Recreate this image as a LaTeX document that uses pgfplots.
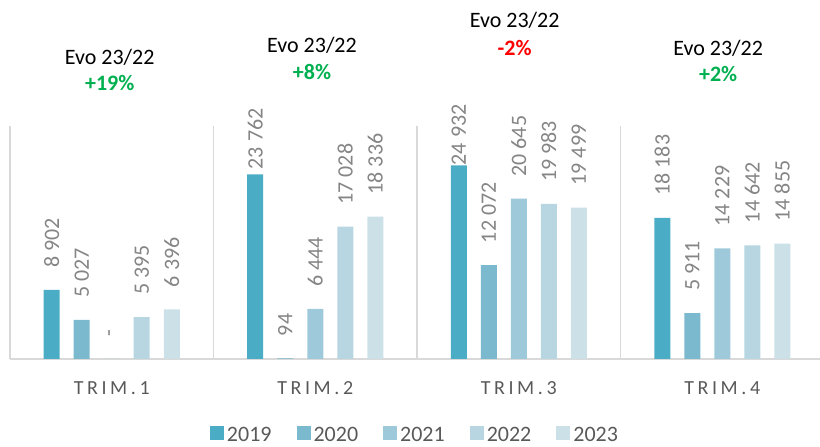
\documentclass[border=0pt]{standalone}
\usepackage{fontspec}
\setmainfont{Carlito}
\usepackage{pgfplots}
\pgfplotsset{compat=1.18}
\definecolor{c19}{RGB}{75,172,198}
\definecolor{c20}{RGB}{123,185,206}
\definecolor{c21}{RGB}{158,201,218}
\definecolor{c22}{RGB}{183,214,225}
\definecolor{c23}{RGB}{204,224,232}
\definecolor{sepgray}{RGB}{217,217,217}
\definecolor{lblgray}{RGB}{133,133,133}
\definecolor{txtgray}{RGB}{89,89,89}
\definecolor{evogreen}{RGB}{0,176,80}
\definecolor{evored}{RGB}{255,0,0}
\begin{document}
\begin{tikzpicture}
\begin{axis}[
  at={(0pt,0pt)}, anchor=south west,
  scale only axis, width=814pt, height=233pt,
  xmin=-0.5, xmax=3.5, ymin=0, ymax=30000,
  ybar=14pt, bar width=16pt,
  axis x line=bottom, axis y line=none,
  x axis line style={draw=sepgray, line width=1.5pt, -},
  xtick={0,1,2,3}, xticklabels={TRIM.1,TRIM.2,TRIM.3,TRIM.4},
  major tick length=0pt,
  xticklabel style={anchor=center, yshift=-29pt, font=\fontsize{20}{22}\selectfont\addfontfeature{LetterSpace=18}, text=txtgray},
  extra x ticks={-0.5,0.5,1.5,2.5},
  extra x tick labels={},
  extra x tick style={grid=major, major grid style={draw=sepgray, line width=1.5pt}},
  point meta=explicit symbolic,
  nodes near coords,
  every node near coord/.append style={rotate=90, anchor=west, inner xsep=22pt, inner ysep=0pt, font=\fontsize{22}{24}\selectfont, text=lblgray},
  clip=false,
  legend columns=5,
  legend style={at={(0.4975,-0.326)}, anchor=center, draw=none, fill=none,
    font=\fontsize{22}{24}\selectfont, text=txtgray,
    /tikz/every even column/.append style={column sep=23pt}},
  legend image code/.code={\fill[#1] (0pt,-5pt) rectangle (14pt,9pt); \path (15pt,0pt);},
]
\addplot[fill=c19, draw=none] coordinates {(0,8902) [8~902] (1,23762) [\hspace*{-17pt}23~762] (2,24932) [\hspace*{-22pt}24~932] (3,18183) [18~183]};
\addplot[fill=c20, draw=none] coordinates {(0,5027) [5~027] (1,94) [94] (2,12072) [12~072] (3,5911) [5~911]};
\addplot[fill=c21, draw=none] coordinates {(0,0) [-] (1,6444) [6~444] (2,20645) [20~645] (3,14229) [14~229]};
\addplot[fill=c22, draw=none] coordinates {(0,5395) [5~395] (1,17028) [17~028] (2,19983) [19~983] (3,14642) [14~642]};
\addplot[fill=c23, draw=none] coordinates {(0,6396) [6~396] (1,18336) [18~336] (2,19499) [19~499] (3,14855) [14~855]};
\legend{2019,2020,2021,2022,2023}
\node[font=\fontsize{22}{24}\selectfont] at (axis cs:-0.01,38885) {Evo 23/22};
\node[font=\fontsize{22}{24}\selectfont\bfseries, text=evogreen] at (axis cs:-0.01,35538) {+19\%};
\node[font=\fontsize{22}{24}\selectfont] at (axis cs:0.984,40430) {Evo 23/22};
\node[font=\fontsize{22}{24}\selectfont\bfseries, text=evogreen] at (axis cs:0.984,36954) {+8\%};
\node[font=\fontsize{22}{24}\selectfont] at (axis cs:1.98,43650) {Evo 23/22};
\node[font=\fontsize{22}{24}\selectfont\bfseries, text=evored] at (axis cs:1.98,40044) {-2\%};
\node[font=\fontsize{22}{24}\selectfont] at (axis cs:2.98,40044) {Evo 23/22};
\node[font=\fontsize{22}{24}\selectfont\bfseries, text=evogreen] at (axis cs:2.98,36697) {+2\%};
\end{axis}
\pgfresetboundingbox
\path[use as bounding box] (-10pt,-88pt) rectangle (810pt,359pt);
\end{tikzpicture}
\end{document}
